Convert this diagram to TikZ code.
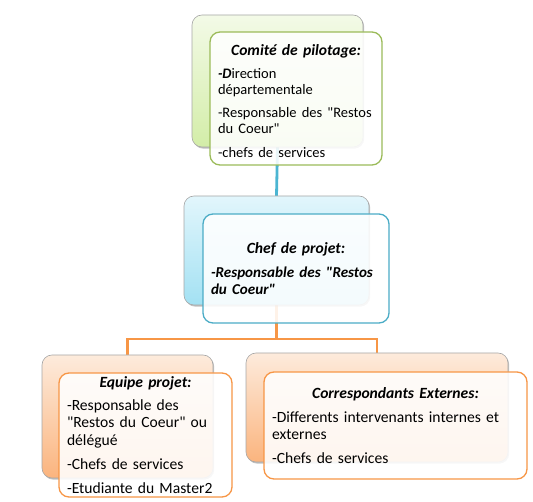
\documentclass[tikz,border=0pt]{standalone}
\usepackage{fontspec}
\setmainfont{Carlito}[Ligatures=TeXOff]
\usetikzlibrary{shadows}
\definecolor{gtop}{HTML}{F3FAE7}
\definecolor{gbot}{HTML}{D3EDA8}
\definecolor{gline}{HTML}{9BBB59}
\definecolor{btop}{HTML}{E2F6FC}
\definecolor{bbot}{HTML}{A3E1F3}
\definecolor{bline}{HTML}{4BACC6}
\definecolor{bcon}{HTML}{4BB5D2}
\definecolor{otop}{HTML}{FDEBDC}
\definecolor{obot}{HTML}{FBB47E}
\definecolor{oline}{HTML}{F79646}
\definecolor{backedge}{HTML}{A6A6A6}
\pgfdeclarelayer{connlayer}
\pgfsetlayers{connlayer,main}
\tikzset{
  backbox/.style={draw=backedge, line width=0.6pt, rounded corners=10pt, inner sep=0pt, outer sep=0pt,
    drop shadow={shadow xshift=1.2pt, shadow yshift=-1.6pt, opacity=0.35, fill=black!70}},
  frontbox/.style={draw=#1, line width=1.3pt, fill=white, fill opacity=0.88, text opacity=1,
    rounded corners=10pt, inner xsep=8pt, inner ysep=0pt, outer sep=0pt, align=left,
    font=\fontsize{15.6}{16.8}\selectfont},
  bluecon/.style={draw=bcon, line width=2.8pt},
  orangecon/.style={draw=oline, line width=2.6pt},
}
\newcommand{\boxtitle}[1]{\makebox[\linewidth]{\bfseries\itshape #1}}
\begin{document}
\begin{tikzpicture}[x=1pt,y=-1pt]
\useasboundingbox (0,0) rectangle (533,502);
% back boxes
\node[backbox, top color=gtop, bottom color=gbot, minimum width=171pt, minimum height=132pt] (topback) at (277.5,81) {};
\node[backbox, top color=btop, bottom color=bbot, minimum width=185pt, minimum height=109pt] (midback) at (276.5,250.5) {};
\node[backbox, top color=otop, bottom color=obot, minimum width=171pt, minimum height=123pt] (leftback) at (127.5,416.5) {};
\node[backbox, top color=otop, bottom color=obot, minimum width=262pt, minimum height=109pt] (rightback) at (377,407.5) {};
% connectors (behind the boxes)
\coordinate (bus) at (0,339);
\begin{pgfonlayer}{connlayer}
\draw[bluecon] (topback.south) -- (midback.north);
\draw[orangecon] (midback.south) -- (midback.south |- bus) -| (leftback.north);
\draw[orangecon] (midback.south |- bus) -| (rightback.north);
\end{pgfonlayer}
% front boxes
\node[frontbox=gline, text width=156pt, minimum height=133pt] (topfront) at (296,98.5)
 {\boxtitle{\rule{0pt}{16pt}Comité de pilotage:}\\[6.5pt]
  \fontsize{14.5}{16}\selectfont
  \mbox{\textbf{\textit{-D}}irection}\\ \mbox{départementale}\\[7pt]
  \mbox{-Responsable des "Restos}\\ \mbox{du Coeur"}\\[7pt]
  \mbox{-chefs de services}};
\node[frontbox=bline, text width=170pt, minimum height=109pt] (midfront) at (296,268.5)
 {\boxtitle{Chef de projet:}\\[8pt]
  \fontsize{15.1}{16.5}\selectfont
  \mbox{\bfseries\itshape -Responsable des "Restos}\\ \mbox{\bfseries\itshape du Coeur"}};
\node[frontbox=oline, text width=157pt, minimum height=124pt] (leftfront) at (145.5,435)
 {\fontsize{15.6}{17.4}\selectfont
  \boxtitle{Equipe projet:}\\[5.5pt]
  \mbox{-Responsable des}\\ \mbox{"Restos du Coeur" ou}\\ \mbox{délégué}\\[7pt]
  \mbox{-Chefs de services}\\[7pt]
  \mbox{-Etudiante du Master2}};
\node[frontbox=oline, text width=247pt, minimum height=107pt] (rightfront) at (395.5,425.5)
 {\boxtitle{Correspondants Externes:}\\[7pt]
  \mbox{-Differents intervenants internes et}\\ \mbox{externes}\\[7pt]
  \mbox{-Chefs de services}};
\end{tikzpicture}
\end{document}
